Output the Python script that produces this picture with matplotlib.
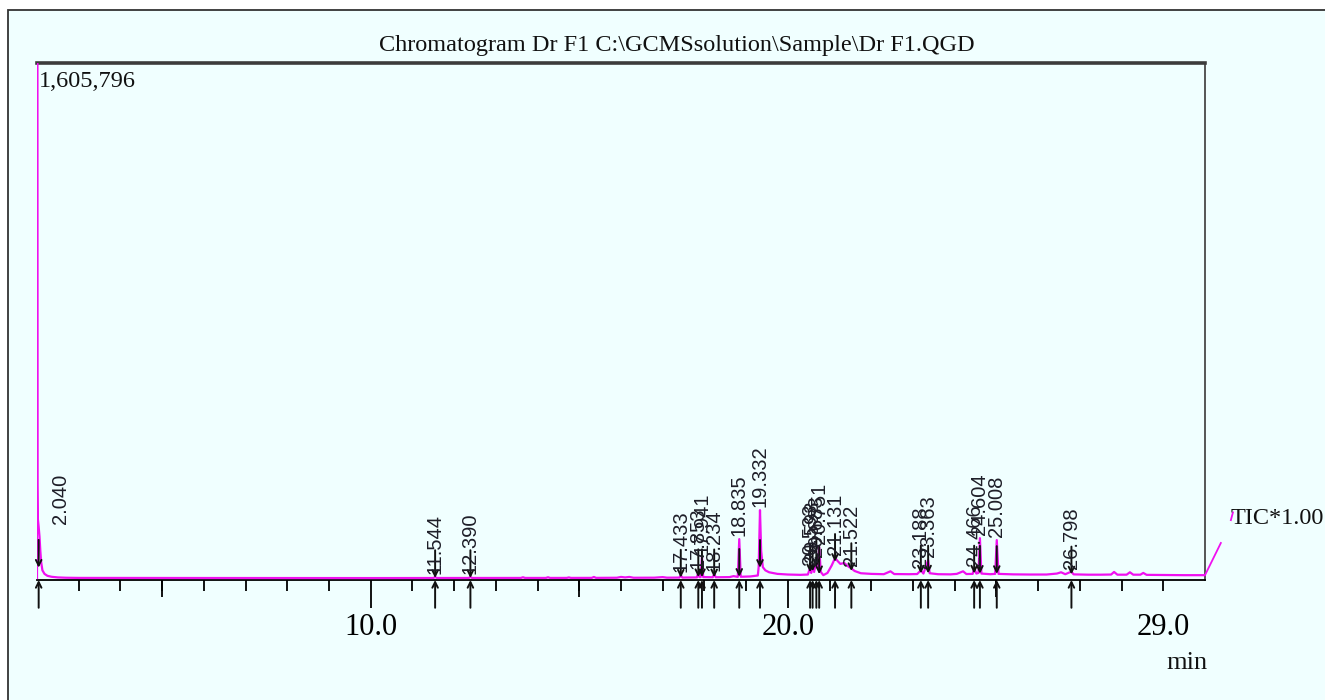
import numpy as np
import matplotlib
matplotlib.use("Agg")
import matplotlib.pyplot as plt
from matplotlib.patches import Rectangle
from matplotlib.ticker import NullLocator

# ---------------- data ----------------
title = r"Chromatogram Dr F1 C:\GCMSsolution\Sample\Dr F1.QGD"
max_label = "1,605,796"
trace_name = "TIC*1.00"

# retention time (min) and intensity (counts) of the TIC trace
trace_t = [2.000, 2.002, 2.006, 2.012, 2.020, 2.040, 2.060, 2.080, 2.100, 2.130,
           2.180, 2.250, 2.350, 2.500, 2.700, 3.000, 4.000, 5.000, 6.000, 7.000,
           8.000, 9.000, 10.00, 11.00, 11.50, 11.544, 11.59, 12.35, 12.390, 12.43,
           13.00, 13.60, 13.65, 13.70, 14.20, 14.25, 14.30, 14.70, 14.75, 14.80,
           15.30, 15.35, 15.40, 15.90, 16.00, 16.10, 16.20, 16.30, 16.80, 17.00,
           17.10, 17.40, 17.433, 17.47, 17.82, 17.853, 17.88, 17.91, 17.941, 17.97,
           18.20, 18.234, 18.27, 18.60, 18.70, 18.80, 18.835, 18.87, 19.10, 19.28,
           19.30, 19.332, 19.36, 19.40, 19.46, 19.55, 19.75, 20.00, 20.30, 20.48,
           20.533, 20.56, 20.593, 20.63, 20.683, 20.72, 20.751, 20.79, 20.85, 20.95,
           21.05, 21.131, 21.20, 21.26, 21.35, 21.45, 21.522, 21.60, 21.75, 22.00,
           22.30, 22.46, 22.55, 22.90, 23.10, 23.188, 23.25, 23.363, 23.40, 23.60,
           23.90, 24.05, 24.20, 24.28, 24.43, 24.466, 24.52, 24.57, 24.604, 24.64,
           24.85, 24.97, 25.008, 25.05, 25.40, 25.80, 26.20, 26.45, 26.55, 26.65,
           26.798, 26.85, 27.20, 27.50, 27.75, 27.82, 27.90, 28.12, 28.20, 28.28,
           28.45, 28.52, 28.60, 29.00, 29.50, 30.00]
trace_y = [6000, 1605796, 1605796, 300000, 190000, 165000, 135000, 90000, 55000, 30000,
           19000, 13000, 10000, 8000, 7000, 6500, 6300, 6200, 6200, 6100,
           6100, 6000, 6000, 6100, 6200, 9000, 6200, 6300, 9500, 6300,
           6300, 6400, 8500, 6400, 6400, 8500, 6400, 6500, 8000, 6500,
           6600, 9500, 6600, 7000, 9500, 8000, 9500, 7000, 7200, 9000,
           7200, 7500, 15000, 7500, 8000, 25000, 9000, 9000, 72000, 9000,
           8500, 19000, 8500, 9000, 12000, 9500, 127000, 10000, 11000, 14000,
           40000, 217000, 90000, 40000, 30000, 24000, 19000, 17000, 16000, 17000,
           38000, 22000, 47000, 25000, 62000, 35000, 102000, 25000, 15000, 22000,
           45000, 68000, 58000, 50000, 53000, 42000, 36000, 28000, 21000, 19000,
           18000, 27000, 18500, 18000, 18500, 30000, 20000, 62000, 21000, 18000,
           17500, 19000, 27000, 18500, 19000, 36000, 20000, 22000, 130000, 20000,
           18000, 19000, 124000, 19000, 17500, 17000, 17000, 20000, 24000, 18000,
           26000, 17500, 16500, 16500, 17000, 25000, 16500, 16500, 24000, 16500,
           16500, 22000, 16000, 15500, 15000, 15000]

# trace continuing past the right edge of the frame
ext1_t = [30.00, 30.38]
ext1_y = [15000, 115000]
ext2_t = [30.62, 30.67]
ext2_y = [186000, 210000]

# labelled peaks (retention times)
peak_times = [2.040, 11.544, 12.390, 17.433, 17.853, 17.941, 18.234, 18.835, 19.332,
              20.533, 20.593, 20.683, 20.751, 21.131, 21.522, 23.188, 23.363,
              24.466, 24.604, 25.008, 26.798]
peak_labels = ["2.040", "11.544", "12.390", "17.433", "17.853", "17.941", "18.234",
               "18.835", "19.332", "20.533", "20.593", "20.683", "20.751", "21.131",
               "21.522", "23.188", "23.363", "24.466", "24.604", "25.008", "26.798"]

tick_label_pos = [10, 20, 29]
tick_label_txt = ["10.0", "20.0", "29.0"]

# ---------------- figure ----------------
W, H = 1325, 700
fig = plt.figure(figsize=(W / 100, H / 100), dpi=100, facecolor="white")

bg = "#F0FFFF"
frame = Rectangle((8 / W, -0.05), 1.2, 1 - 10 / H + 0.05, transform=fig.transFigure,
                  facecolor=bg, edgecolor="#333333", lw=1.3, zorder=-10)
fig.patches.append(frame)

ax = fig.add_axes([37 / W, 1 - 580 / H, (1205 - 37) / W, (580 - 63) / H])
ax.set_facecolor("none")
ax.set_xlim(2.0, 30.0)
ax.set_ylim(0, 1605796)

magenta = "#F010F0"
ax.plot(trace_t, trace_y, color=magenta, lw=1.6, zorder=3)
ax.plot(ext1_t, ext1_y, color=magenta, lw=1.3, clip_on=False, zorder=3)
ax.plot(ext2_t, ext2_y, color=magenta, lw=1.3, clip_on=False, zorder=3)

# spines
ax.spines["left"].set_visible(False)
ax.spines["top"].set_color("#3c3c3c")
ax.spines["top"].set_linewidth(2.6)
ax.spines["right"].set_color("#555555")
ax.spines["right"].set_linewidth(1.4)
ax.spines["bottom"].set_color("black")
ax.spines["bottom"].set_linewidth(1.3)
ax.set_yticks([])

# ticks: minor every minute, medium every 5, long at 10 and 20
ax.set_xticks([10, 20])
ax.set_xticks(np.arange(3, 30, 1), minor=True)
ax.tick_params(axis="x", which="major", length=20, width=1.3, direction="out",
               labelbottom=False, color="black")
ax.tick_params(axis="x", which="minor", length=8, width=1.3, direction="out", color="black")

mid = ax.secondary_xaxis("bottom")
mid.set_xticks([5, 15, 25])
mid.xaxis.set_minor_locator(NullLocator())
mid.tick_params(length=12, width=1.3, direction="out", labelbottom=False, color="black")
mid.spines["bottom"].set_visible(False)

lab = ax.secondary_xaxis("bottom")
lab.set_xticks(tick_label_pos, labels=tick_label_txt)
lab.xaxis.set_minor_locator(NullLocator())
lab.tick_params(length=0, pad=24, labelsize=22)
for t in lab.get_xticklabels():
    t.set_fontfamily("Liberation Serif")
lab.spines["bottom"].set_visible(False)

# peak markers and labels
arrow_kw = dict(arrowstyle="->", lw=1.4, color="#111111", shrinkA=0, shrinkB=0,
                mutation_scale=10)
label_dx = {"2.040": 16}
for t, txt in zip(peak_times, peak_labels):
    apex = np.interp(t, trace_t, trace_y)
    base = np.interp(np.linspace(t, t + 0.08, 9), trace_t, trace_y).min()
    # below-axis up arrow
    ax.annotate("", xy=(t, 0), xytext=(0, -20), textcoords="offset points",
                arrowprops=arrow_kw, annotation_clip=False, zorder=4)
    # above-signal down arrow
    ax.annotate("", xy=(t, base), xytext=(0, 20), textcoords="offset points",
                arrowprops=arrow_kw, annotation_clip=False, zorder=4)
    ax.annotate(txt, xy=(t, apex), xytext=(label_dx.get(txt, 0), 2),
                textcoords="offset points", rotation=90, ha="center", va="bottom",
                fontsize=14.5, family="Liberation Sans", color="#1e1e28", zorder=5,
                annotation_clip=False)

# texts
fig.text(677 / W, 1 - 45 / H, title, ha="center", va="center", fontsize=17.5,
         family="Liberation Serif", color="#111111")
ax.text(0.002, 0.985, max_label, transform=ax.transAxes, ha="left", va="top",
        fontsize=17.5, family="Liberation Serif", color="#111111")
fig.text(1187 / W, 1 - 663 / H, "min", ha="center", va="center", fontsize=19,
         family="Liberation Serif", color="#111111")
fig.text(1231 / W, 1 - 518 / H, trace_name, ha="left", va="center", fontsize=17.5,
         family="Liberation Serif", color="#111111")

fig.savefig("out.png", dpi=100, facecolor="white")
